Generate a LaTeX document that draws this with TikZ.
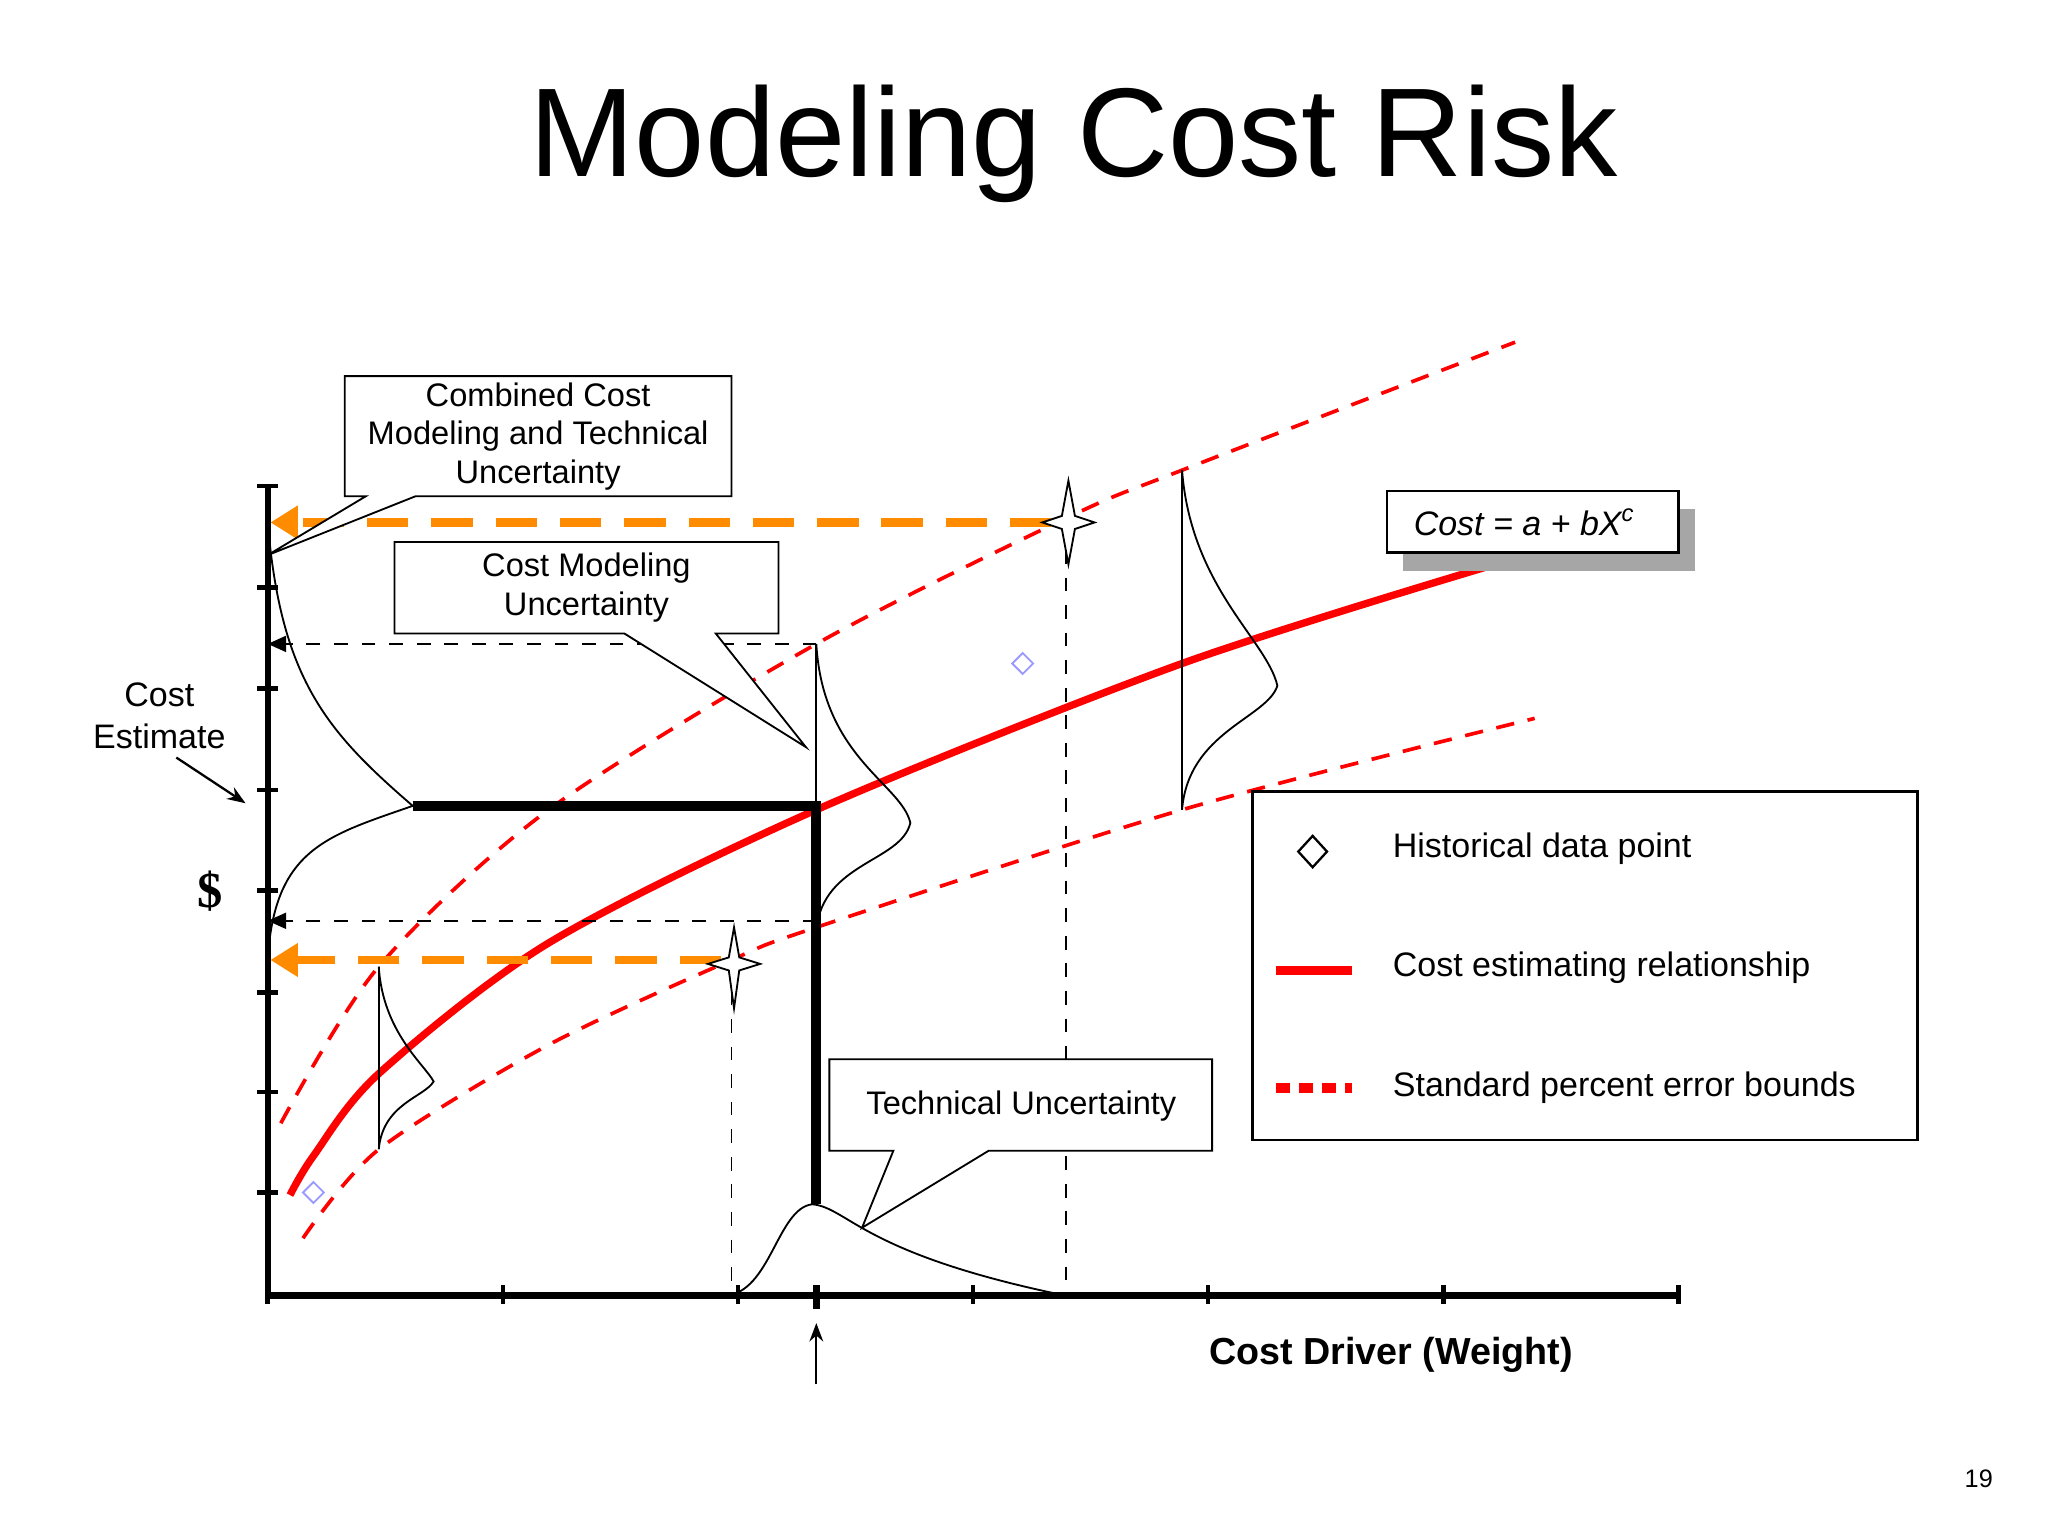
\documentclass[tikz,border=0pt]{standalone}
\usepackage{fontspec}
\setmainfont{Liberation Sans}
\newfontfamily\serifdollar{Liberation Serif}
\usetikzlibrary{arrows.meta}
\begin{document}
\begin{tikzpicture}[x=0.01cm,y=-0.01cm,
  lbl/.style={font=\fontsize{7.1}{8.4}\selectfont,align=center},
  leg/.style={font=\fontsize{7.4}{9}\selectfont,anchor=west},
  cer/.style={red,line width=1.6pt},
  bnd/.style={red,dashed,line width=0.8pt,dash pattern=on 4pt off 3pt},
  orng/.style={orange!90!yellow,line width=1.8pt,dash pattern=on 9pt off 5pt,-{Triangle[length=6pt,width=7pt]}},
  bdash/.style={dashed,line width=0.4pt,-{Triangle[length=4pt,width=3.5pt]}},
  vdash/.style={dashed,line width=0.4pt},
  dist/.style={line width=0.4pt},
  callout/.style={draw,fill=white,line width=0.4pt},
  star/.style={draw,fill=white,line width=0.4pt}]
\useasboundingbox (0,0) rectangle (1568,1176);
\node (title) at (822,110) {\fontsize{27.5}{33}\selectfont Modeling Cost Risk};
% bounds
\draw[bnd] plot[smooth] coordinates {(215,860) (290,740) (420,620) (625,493) (820,395) (905,360) (1160,262)};
\draw[bnd] plot[smooth] coordinates {(232,948) (290,880) (420,800) (560,735) (625,710) (905,620) (1175,550)};
\draw[cer] plot[smooth] coordinates {(222,915) (240,885) (290,822) (420,722) (625,620) (905,508) (1145,432)};
% axes
\draw[line width=1.4pt] (205,372) -- (205,992) -- (1285,992);
\foreach \y in {372,450,527,605,682,760,836,913} \draw[line width=1pt] (197,\y) -- (213,\y);
\foreach \x in {385,565,745,925,1105,1285} \draw[line width=1pt] (\x,984) -- (\x,998);
\draw[line width=1.6pt] (625,984) -- (625,1002);
\draw[line width=1pt] (205,984) -- (205,998);
% dashed guides
\draw[bdash] (625,493) -- (205,493);
\draw[bdash] (625,705) -- (205,705);
\draw[vdash] (816,400) -- (816,992);
\draw[vdash] (560,738) -- (560,992);
\draw[orng] (805,400) -- (207,400);
\draw[orng] (552,735) -- (207,735);
% thick estimate lines
\draw[line width=2.2pt] (316,617) -- (625,617) -- (625,922);
% distributions
\draw[dist] (205,400) .. controls (215,520) and (250,560) .. (316,617) .. controls (250,640) and (210,650) .. (205,735);
\draw[dist] (625,493) -- (625,712);
\draw[dist] (625,493) .. controls (630,580) and (690,600) .. (697,630) .. controls (690,660) and (630,660) .. (625,712);
\draw[dist] (905,360) -- (905,620);
\draw[dist] (905,360) .. controls (912,450) and (970,490) .. (978,525) .. controls (970,550) and (910,560) .. (905,620);
\draw[dist] (290,740) -- (290,880);
\draw[dist] (290,740) .. controls (293,790) and (325,815) .. (332,828) .. controls (325,840) and (293,845) .. (290,880);
\draw[dist] (555,992) .. controls (590,990) and (595,925) .. (622,922) .. controls (650,925) and (660,960) .. (816,992);
% stars
\draw[star] (818,368) -- (823,395) -- (838,400) -- (823,405) -- (818,432) -- (813,405) -- (798,400) -- (813,395) -- cycle;
\draw[star] (562,710) -- (566,733) -- (582,738) -- (566,743) -- (562,772) -- (558,743) -- (542,738) -- (558,733) -- cycle;
% faint data points
\draw[blue!40,line width=0.4pt] (783,500) -- (791,508) -- (783,516) -- (775,508) -- cycle;
\draw[blue!40,line width=0.4pt] (240,905) -- (248,913) -- (240,921) -- (232,913) -- cycle;
% callouts
\draw[callout] (264,288) -- (560,288) -- (560,380) -- (318,380) -- (205,425) -- (280,380) -- (264,380) -- cycle;
\node[lbl] (c1) at (412,334) {Combined Cost\\Modeling and Technical\\Uncertainty};
\draw[callout] (302,415) -- (596,415) -- (596,485) -- (548,485) -- (617,572) -- (478,485) -- (302,485) -- cycle;
\node[lbl] (c2) at (449,450) {Cost Modeling\\Uncertainty};
\draw[callout] (635,811) -- (928,811) -- (928,881) -- (757,881) -- (660,940) -- (684,881) -- (635,881) -- cycle;
\node[lbl] (c3) at (782,847) {Technical Uncertainty};
% formula box
\fill[gray!70] (1074,390) rectangle (1298,437);
\draw[fill=white,line width=0.6pt] (1062,376) rectangle (1285,423);
\node[leg,font=\fontsize{7.4}{9}\selectfont\itshape] (f) at (1070,400) {Cost = a + bX\textsuperscript{c}};
% legend
\draw[line width=0.5pt] (959,606) rectangle (1468,873);
\draw[line width=0.5pt] (1005,640) -- (1016,652) -- (1005,664) -- (994,652) -- cycle;
\node[leg] (l1) at (1054,650) {Historical data point};
\draw[cer,line width=2pt] (977,743) -- (1035,743);
\node[leg] (l2) at (1054,741) {Cost estimating relationship};
\draw[red,line width=2pt,dash pattern=on 3pt off 2pt] (977,833) -- (1035,833);
\node[leg] (l3) at (1054,833) {Standard percent error bounds};
% axis labels
\node[font=\fontsize{11}{13}\selectfont\bfseries\serifdollar] (dol) at (161,682) {\$};
\node[lbl,font=\fontsize{7.4}{9}\selectfont] (ce) at (122,548) {Cost\\Estimate};
\draw[-{Stealth[length=4pt]},line width=0.5pt] (135,580) -- (188,615);
\node[font=\fontsize{8.2}{10}\selectfont\bfseries] (xl) at (1065,1037) {Cost Driver (Weight)};
\draw[-{Stealth[length=4pt]},line width=0.5pt] (625,1060) -- (625,1013);
\node[font=\fontsize{5.5}{7}\selectfont] (pg) at (1515,1132) {19};
\end{tikzpicture}
\end{document}
